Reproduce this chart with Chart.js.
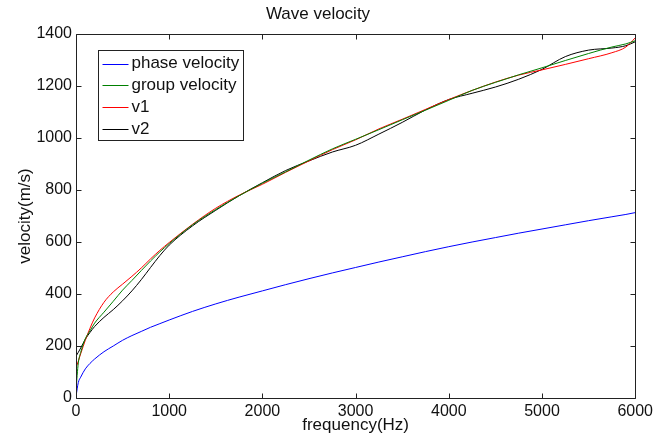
<!DOCTYPE html>
<html>
<head>
<meta charset="utf-8">
<script src="https://cdn.jsdelivr.net/npm/chart.js@4/dist/chart.umd.min.js"></script>
<style>
  body { margin: 0; background: #fff; }
  canvas { display: block; }
</style>
</head>
<body>
<canvas id="waveChart" width="657" height="440"></canvas>
<script>
// frequency samples (Hz) and velocities (m/s)
const freq = [0, 25, 50, 100, 150, 200, 300, 400, 500, 600, 700, 800, 900, 1000, 1250, 1500, 1750,
  2000, 2250, 2500, 2750, 3000, 3250, 3500, 3750, 4000, 4250, 4500, 4750, 5000, 5250, 5500, 5750,
  5900, 6000];

const phaseVel = [6, 60, 80, 112, 133, 150, 178, 200, 222, 240, 256, 272, 286, 300, 333, 362, 388,
  412, 436, 459, 481, 502, 523, 543, 563, 582, 600, 617, 634, 650, 666, 682, 697,
  706, 713];

const groupVel = [32, 135, 175, 228, 258, 288, 330, 372, 415, 452, 490, 527, 562, 594, 666, 725, 778,
  826, 870, 915, 958, 995, 1032, 1070, 1107, 1145, 1183, 1214, 1243, 1270, 1298, 1325, 1350,
  1362, 1374];

const v1 = [116, 142, 170, 222, 268, 308, 368, 408, 438, 468, 500, 535, 568, 598, 668, 730, 780,
  822, 868, 912, 955, 993, 1035, 1072, 1110, 1148, 1183, 1215, 1242, 1262, 1283, 1305, 1328,
  1350, 1385];

const v2 = [161, 176, 192, 226, 252, 275, 310, 340, 374, 412, 455, 502, 548, 588, 662, 722, 778,
  828, 875, 912, 946, 972, 1015, 1060, 1108, 1148, 1172, 1196, 1226, 1264, 1313, 1338, 1346,
  1355, 1370];

const xTicks = [0, 1000, 2000, 3000, 4000, 5000, 6000];
const yTicks = [0, 200, 400, 600, 800, 1000, 1200, 1400];

const pts = vals => freq.map((f, i) => ({ x: f, y: vals[i] }));

const line = (label, vals, color) => ({
  label: label,
  data: pts(vals),
  borderColor: color,
  borderWidth: 1,
  pointRadius: 0,
  fill: false,
  cubicInterpolationMode: 'monotone'
});

const FONT = 'Arial, "Liberation Sans", sans-serif';

// box round the axes with inward tick marks, like MATLAB
const frameTicks = {
  id: 'frameTicks',
  afterDatasetsDraw(chart) {
    const { ctx, chartArea: a, scales: { x, y } } = chart;
    const L = Math.round(a.left) + 0.5, R = Math.round(a.right) + 0.5;
    const T = Math.round(a.top) + 0.5, B = Math.round(a.bottom) + 0.5;
    ctx.save();
    ctx.strokeStyle = '#222';
    ctx.lineWidth = 1;
    ctx.beginPath();
    ctx.rect(L, T, R - L, B - T);
    xTicks.forEach(v => {
      const px = Math.round(x.getPixelForValue(v)) + 0.5;
      ctx.moveTo(px, B); ctx.lineTo(px, B - 5);
      ctx.moveTo(px, T); ctx.lineTo(px, T + 5);
    });
    yTicks.forEach(v => {
      const py = Math.round(y.getPixelForValue(v)) + 0.5;
      ctx.moveTo(L, py); ctx.lineTo(L + 5, py);
      ctx.moveTo(R, py); ctx.lineTo(R - 5, py);
    });
    ctx.stroke();
    ctx.restore();
  }
};

// legend box in the upper left of the plot
const boxLegend = {
  id: 'boxLegend',
  afterDraw(chart) {
    const { ctx, chartArea: a } = chart;
    const bx = Math.round(a.left) + 22.5, by = Math.round(a.top) + 16.5;
    const bw = 145, bh = 90;
    ctx.save();
    ctx.fillStyle = '#fff';
    ctx.fillRect(bx, by, bw, bh);
    ctx.strokeStyle = '#222';
    ctx.lineWidth = 1;
    ctx.strokeRect(bx, by, bw, bh);
    ctx.font = '17px ' + FONT;
    ctx.textBaseline = 'middle';
    ctx.textAlign = 'left';
    chart.data.datasets.forEach((ds, i) => {
      const ry = by + 13 + i * 21.8;
      ctx.strokeStyle = ds.borderColor;
      ctx.beginPath();
      ctx.moveTo(bx + 4, Math.round(ry) + 0.5);
      ctx.lineTo(bx + 30, Math.round(ry) + 0.5);
      ctx.stroke();
      ctx.fillStyle = '#111';
      ctx.fillText(ds.label, bx + 33, ry);
    });
    ctx.restore();
  }
};

new Chart(document.getElementById('waveChart'), {
  type: 'line',
  data: {
    datasets: [
      line('phase velocity', phaseVel, '#0000ff'),
      line('group velocity', groupVel, '#008000'),
      line('v1', v1, '#ff0000'),
      line('v2', v2, '#000000')
    ]
  },
  options: {
    responsive: false,
    animation: false,
    layout: { padding: { right: 21 } },
    plugins: {
      legend: { display: false },
      tooltip: { enabled: false },
      title: {
        display: true,
        text: 'Wave velocity',
        color: '#111',
        font: { family: FONT, size: 17, weight: 'normal' },
        padding: { top: 4, bottom: 9.6 }
      }
    },
    scales: {
      x: {
        type: 'linear',
        min: 0,
        max: 6000,
        afterFit: s => { s.height = 42; },
        afterBuildTicks: s => { s.ticks = xTicks.map(v => ({ value: v })); },
        grid: { display: false, drawTicks: false },
        border: { display: false },
        ticks: {
          color: '#111', padding: 4, maxRotation: 0,
          font: { family: FONT, size: 16 },
          callback: v => String(v)
        },
        title: {
          display: true,
          text: 'frequency(Hz)',
          color: '#111',
          font: { family: FONT, size: 17 },
          padding: { top: 0, bottom: 4 }
        }
      },
      y: {
        type: 'linear',
        min: 0,
        max: 1400,
        afterFit: s => { s.width = 76; },
        afterBuildTicks: s => { s.ticks = yTicks.map(v => ({ value: v })); },
        grid: { display: false, drawTicks: false },
        border: { display: false },
        ticks: {
          color: '#111', padding: 4,
          font: { family: FONT, size: 16 },
          callback: v => String(v)
        },
        title: {
          display: true,
          text: 'velocity(m/s)',
          color: '#111',
          font: { family: FONT, size: 17 },
          padding: { top: 15, bottom: 0 }
        }
      }
    }
  },
  plugins: [frameTicks, boxLegend]
});
</script>
</body>
</html>
